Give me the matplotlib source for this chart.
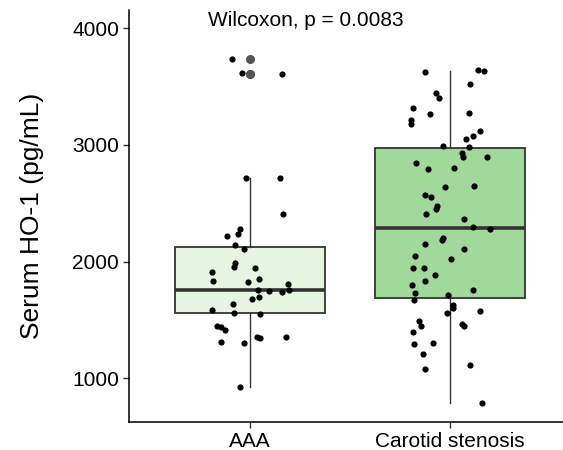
import matplotlib.pyplot as plt
import numpy as np

plt.rcParams['font.family'] = ['Liberation Sans', 'DejaVu Sans']

# groups and colours
groups = ['AAA', 'Carotid stenosis']
fills = ['#e5f5e0', '#a1d99b']

# serum HO-1 values (pg/mL), with the horizontal jitter of each dot
aaa_vals = [3734, 3614, 3608, 2714, 2714, 2406, 2277, 2234, 2220, 2143, 2111, 1986, 1951,
            1948, 1911, 1831, 1828, 1851, 1808, 1757, 1751, 1740, 1757, 1694, 1680, 1640,
            1585, 1562, 1551, 1448, 1437, 1417, 1357, 1348, 1357, 1309, 1300, 928]
aaa_jit = [-0.087, -0.04, 0.163, -0.02, 0.153, 0.167, -0.047, -0.058, -0.112, -0.073, -0.03,
           -0.072, -0.078, 0.028, -0.19, -0.183, -0.008, 0.048, 0.19, 0.04, 0.095, 0.162,
           0.198, 0.048, 0.013, -0.083, -0.188, -0.078, 0.053, -0.163, -0.145, -0.125, 0.037,
           0.053, 0.182, -0.143, -0.027, -0.047]

car_vals = [3628, 3643, 3631, 3520, 3443, 3405, 3320, 3268, 3274, 3211, 3182, 3122, 3080,
            3049, 2991, 2980, 2929, 2894, 2900, 2848, 2797, 2803, 2643, 2651, 2569, 2557,
            2477, 2449, 2411, 2368, 2300, 2280, 2200, 2185, 2149, 2108, 2048, 2022, 1943,
            1943, 1888, 1834, 1800, 1731, 1760, 1714, 1674, 1629, 1600, 1562, 1577, 1491,
            1446, 1463, 1448, 1394, 1294, 1303, 1206, 1111, 1077, 791]
car_jit = [-0.122, 0.14, 0.172, 0.1, -0.068, -0.053, -0.182, -0.1, 0.097, -0.195, -0.193,
           0.152, 0.118, 0.08, -0.032, 0.095, 0.063, 0.065, 0.185, -0.168, -0.107, 0.023,
           -0.025, 0.12, -0.122, -0.092, -0.062, -0.068, -0.12, 0.072, 0.117, 0.2, -0.033,
           -0.04, -0.123, 0.07, -0.175, 0.008, -0.183, -0.13, -0.072, -0.125, -0.188, -0.172,
           0.117, -0.007, -0.18, 0.017, 0.018, -0.012, 0.148, -0.153, -0.145, 0.06, 0.073,
           -0.182, -0.18, -0.083, -0.133, 0.102, -0.125, 0.158]

# box statistics as drawn in the reference
q1 = [1557, 1686]
med = [1757, 2286]
q3 = [2123, 2971]
whislo = [928, 791]
whishi = [2714, 3637]
fliers = [[3734, 3611, 3611], []]

p_label = 'Wilcoxon, p = 0.0083'

fig = plt.figure(figsize=(5.63, 4.5), dpi=100)
ax = fig.add_axes([0.230, 0.063, 0.770, 0.915])

stats = []
for i in range(2):
    stats.append(dict(med=med[i], q1=q1[i], q3=q3[i], whislo=whislo[i],
                      whishi=whishi[i], fliers=fliers[i], label=groups[i]))

bp = ax.bxp(stats, positions=[1, 2], widths=0.75, patch_artist=True, showcaps=False,
            boxprops=dict(edgecolor='#333333', linewidth=1.3),
            medianprops=dict(color='#333333', linewidth=2.6),
            whiskerprops=dict(color='#333333', linewidth=1.0),
            flierprops=dict(marker='o', markerfacecolor='#555555', markeredgecolor='#555555',
                            markersize=5.5))
for patch, c in zip(bp['boxes'], fills):
    patch.set_facecolor(c)

ax.scatter(1 + np.array(aaa_jit), aaa_vals, s=20, color='black', zorder=5, linewidths=0)
ax.scatter(2 + np.array(car_jit), car_vals, s=20, color='black', zorder=5, linewidths=0)

ax.text(0.79, 4063, p_label, fontsize=15, ha='left', va='center')

ax.set_xlim(0.4, 2.565)
ax.set_ylim(628, 4157)
ax.set_xticks([1, 2])
ax.set_xticklabels(groups)
ax.set_yticks([1000, 2000, 3000, 4000])
ax.tick_params(labelsize=15, color='#333333', length=4, width=1)
ax.set_ylabel('Serum HO-1 (pg/mL)', fontsize=19, labelpad=20)
for s in ['top', 'right']:
    ax.spines[s].set_visible(False)
for s in ['left', 'bottom']:
    ax.spines[s].set_linewidth(1.1)

fig.savefig('out.png', dpi=100)
